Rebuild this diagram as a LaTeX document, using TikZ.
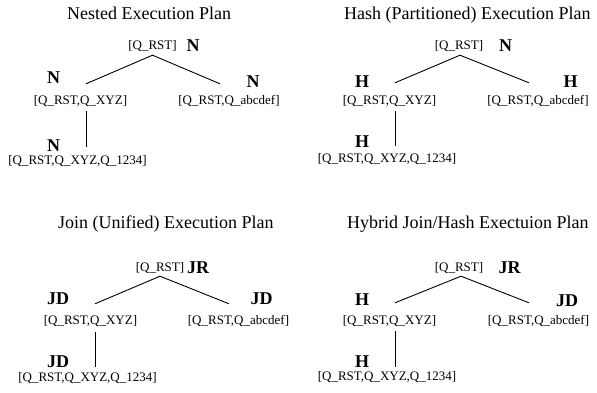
\documentclass[tikz,border=0pt]{standalone}
\usepackage{fontspec}
\setmainfont{Liberation Serif}
\begin{document}
\begin{tikzpicture}[x=1pt,y=-1pt,
  plantitle/.style={anchor=base west,inner sep=0pt,font=\fontsize{18}{20}\selectfont},
  relset/.style={anchor=base,inner sep=0pt,text height=9pt,text depth=3pt,font=\fontsize{13}{15}\selectfont},
  opmark/.style={anchor=base,inner sep=0pt,font=\fontsize{18}{20}\selectfont\bfseries},
  edge/.style={draw=black,line width=0.9pt}]
\useasboundingbox (0,0) rectangle (597,393);

% ---------- Nested execution plan ----------
\node[plantitle] (t1) at (67,20) {Nested Execution Plan};
\node[relset] (r1) at (152.5,50) {[Q\_RST]};
\node[relset] (a1) at (80.5,104.5) {[Q\_RST,Q\_XYZ]};
\node[relset] (b1) at (229,104.5) {[Q\_RST,Q\_abcdef]};
\node[relset] (c1) at (77.5,164.5) {[Q\_RST,Q\_XYZ,Q\_1234]};
\node[opmark] (mr1) at (193,51.5) {N};
\node[opmark] (ma1) at (53.5,84) {N};
\node[opmark] (mb1) at (253,87.5) {N};
\node[opmark] (mc1) at (53.5,151) {N};
\draw[edge] ([xshift=5.5pt,yshift=11.5pt]a1.north) -- ([yshift=-2pt]r1.south)
            -- ([xshift=-9pt,yshift=11.5pt]b1.north);
\draw[edge] ([xshift=5.5pt,yshift=-3.5pt]a1.south) -- ([xshift=8.5pt,yshift=8.5pt]c1.north);

% ---------- Hash (partitioned) execution plan ----------
\node[plantitle] (t2) at (344,20) {Hash (Partitioned) Execution Plan};
\node[relset] (r2) at (459,50) {[Q\_RST]};
\node[relset] (a2) at (389.5,104.5) {[Q\_RST,Q\_XYZ]};
\node[relset] (b2) at (538,104.5) {[Q\_RST,Q\_abcdef]};
\node[relset] (c2) at (387,162.5) {[Q\_RST,Q\_XYZ,Q\_1234]};
\node[opmark] (mr2) at (505.5,52) {N};
\node[opmark] (ma2) at (362,88) {H};
\node[opmark] (mb2) at (570.5,88) {H};
\node[opmark] (mc2) at (362,148) {H};
\draw[edge] ([xshift=5.5pt,yshift=12.5pt]a2.north) -- ([xshift=1pt,yshift=-2pt]r2.south)
            -- ([xshift=-9pt,yshift=12.5pt]b2.north);
\draw[edge] ([xshift=5.5pt,yshift=-3.5pt]a2.south) -- ([xshift=8pt,yshift=7.5pt]c2.north);

% ---------- Join (unified) execution plan ----------
\node[plantitle] (t3) at (58,228) {Join (Unified) Execution Plan};
\node[relset] (r3) at (160,271) {[Q\_RST]};
\node[relset] (a3) at (90.5,324.5) {[Q\_RST,Q\_XYZ]};
\node[relset] (b3) at (238.5,324.5) {[Q\_RST,Q\_abcdef]};
\node[relset] (c3) at (87.5,381) {[Q\_RST,Q\_XYZ,Q\_1234]};
\node[opmark] (mr3) at (198,273) {JR};
\node[opmark] (ma3) at (58,304) {JD};
\node[opmark] (mb3) at (261.5,304) {JD};
\node[opmark] (mc3) at (58,367) {JD};
\draw[edge] ([xshift=4.5pt,yshift=11.5pt]a3.north) -- ([yshift=-2pt]r3.south)
            -- ([xshift=-9.5pt,yshift=11.5pt]b3.north);
\draw[edge] ([xshift=4.5pt,yshift=-4.5pt]a3.south) -- ([xshift=7.5pt,yshift=5pt]c3.north);

% ---------- Hybrid join/hash execution plan ----------
\node[plantitle] (t4) at (347,228) {Hybrid Join/Hash Exectuion Plan};
\node[relset] (r4) at (459,271) {[Q\_RST]};
\node[relset] (a4) at (389.5,324.5) {[Q\_RST,Q\_XYZ]};
\node[relset] (b4) at (538.5,324.5) {[Q\_RST,Q\_abcdef]};
\node[relset] (c4) at (387,380.5) {[Q\_RST,Q\_XYZ,Q\_1234]};
\node[opmark] (mr4) at (509.5,273) {JR};
\node[opmark] (ma4) at (362,305) {H};
\node[opmark] (mb4) at (567,306) {JD};
\node[opmark] (mc4) at (362,367) {H};
\draw[edge] ([xshift=5.5pt,yshift=12.5pt]a4.north) -- ([xshift=2pt,yshift=-2pt]r4.south)
            -- ([xshift=-9.5pt,yshift=12.5pt]b4.north);
\draw[edge] ([xshift=5.5pt,yshift=-3.5pt]a4.south) -- ([xshift=8pt,yshift=4.5pt]c4.north);
\end{tikzpicture}
\end{document}
